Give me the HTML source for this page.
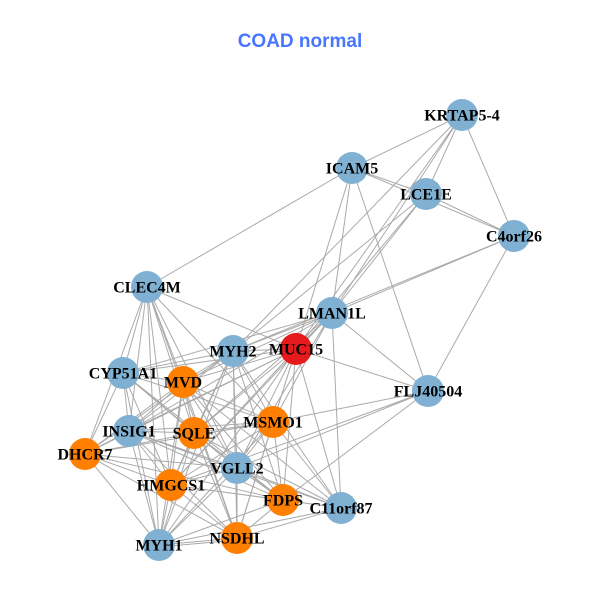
<!DOCTYPE html>
<html><head><meta charset="utf-8"><style>
html,body{margin:0;padding:0;background:#fff;}
svg{display:block;}
.e path{stroke:#aaaaaa;stroke-width:1;fill:none;}
.t text{font-family:"Liberation Serif",serif;font-weight:bold;font-size:16px;text-anchor:middle;fill:#000;}
</style></head><body>
<svg width="600" height="600" viewBox="0 0 600 600" xmlns="http://www.w3.org/2000/svg">
<rect width="600" height="600" fill="#fff"/>
<text x="300" y="47" font-family="Liberation Sans, sans-serif" font-weight="bold" font-size="19" fill="#4876FF" text-anchor="middle">COAD normal</text>
<g class="e">
<path d="M462 115L352 168M462 115L426 194M462 115L514 236M462 115L332 313M462 115L296 349M462 115L233 351"/>
<path d="M352 168L426 194L514 236M352 168L514 236M352 168L147 287M352 168L332 313M352 168L296 349M352 168L428 391"/>
<path d="M426 194L332 313M426 194L296 349M426 194L233 351M514 236L332 313M514 236L233 351M514 236L428 391"/>
<path d="M147 287L123 373M147 287L129 431M147 287L85 454M147 287L183 382M147 287L194 433M147 287L171 485M147 287L159 545M147 287L237 468M147 287L237 538M147 287L296 349M147 287L273 422"/>
<path d="M332 313L296 349M332 313L233 351M332 313L428 391M332 313L341 508M332 313L183 382M332 313L123 373M332 313L194 433M332 313L129 431M332 313L237 468M332 313L273 422M332 313L171 485"/>
<path d="M296 349L233 351M296 349L183 382M296 349L123 373M296 349L129 431M296 349L194 433M296 349L273 422M296 349L85 454M296 349L237 468M296 349L171 485M296 349L283 500M296 349L341 508M296 349L237 538M296 349L159 545M296 349L428 391"/>
<path d="M233 351L123 373M233 351L183 382M233 351L129 431M233 351L194 433M233 351L85 454M233 351L237 468M233 351L171 485M233 351L283 500M233 351L341 508M233 351L237 538M233 351L159 545M233 351L273 422"/>
<path d="M428 391L273 422M428 391L237 468M428 391L283 500M428 391L171 485"/>
<path d="M123 373L183 382M123 373L129 431M123 373L194 433M123 373L85 454M123 373L171 485M123 373L237 468M123 373L159 545M123 373L273 422M123 373L283 500"/>
<path d="M183 382L129 431M183 382L194 433M183 382L273 422M183 382L85 454M183 382L237 468M183 382L171 485M183 382L283 500M183 382L237 538M183 382L159 545M183 382L341 508"/>
<path d="M129 431L194 433M129 431L85 454M129 431L273 422M129 431L237 468M129 431L171 485M129 431L283 500M129 431L237 538M129 431L159 545M129 431L341 508"/>
<path d="M194 433L85 454M194 433L273 422M194 433L237 468M194 433L171 485M194 433L283 500M194 433L237 538M194 433L159 545M194 433L341 508"/>
<path d="M273 422L85 454M273 422L237 468M273 422L171 485M273 422L283 500M273 422L237 538M273 422L341 508M273 422L159 545"/>
<path d="M85 454L237 468M85 454L171 485M85 454L283 500M85 454L237 538M85 454L159 545"/>
<path d="M237 468L171 485M237 468L283 500M237 468L341 508M237 468L237 538M237 468L159 545"/>
<path d="M171 485L283 500M171 485L341 508M171 485L237 538M171 485L159 545"/>
<path d="M283 500L341 508M283 500L237 538M283 500L159 545M341 508L237 538M341 508L159 545M237 538L159 545M237 540L159 547"/>
</g>
<g>
<circle cx="462" cy="115" r="16" fill="#80B1D3"/>
<circle cx="352" cy="168" r="16" fill="#80B1D3"/>
<circle cx="426" cy="194" r="16" fill="#80B1D3"/>
<circle cx="514" cy="236" r="16" fill="#80B1D3"/>
<circle cx="147" cy="287" r="16" fill="#80B1D3"/>
<circle cx="332" cy="313" r="16" fill="#80B1D3"/>
<circle cx="233" cy="351" r="16" fill="#80B1D3"/>
<circle cx="296" cy="349" r="16" fill="#E41A1C"/>
<circle cx="123" cy="373" r="16" fill="#80B1D3"/>
<circle cx="183" cy="382" r="16" fill="#FF7F00"/>
<circle cx="428" cy="391" r="16" fill="#80B1D3"/>
<circle cx="129" cy="431" r="16" fill="#80B1D3"/>
<circle cx="194" cy="433" r="16" fill="#FF7F00"/>
<circle cx="273" cy="422" r="16" fill="#FF7F00"/>
<circle cx="85" cy="454" r="16" fill="#FF7F00"/>
<circle cx="237" cy="468" r="16" fill="#80B1D3"/>
<circle cx="171" cy="485" r="16" fill="#FF7F00"/>
<circle cx="283" cy="500" r="16" fill="#FF7F00"/>
<circle cx="341" cy="508" r="16" fill="#80B1D3"/>
<circle cx="237" cy="538" r="16" fill="#FF7F00"/>
<circle cx="159" cy="545" r="16" fill="#80B1D3"/>
</g>
<g class="t">
<text x="462" y="120.5">KRTAP5-4</text>
<text x="352" y="173.5">ICAM5</text>
<text x="426" y="199.5">LCE1E</text>
<text x="514" y="241.5">C4orf26</text>
<text x="147" y="292.5">CLEC4M</text>
<text x="332" y="318.5">LMAN1L</text>
<text x="233" y="356.5">MYH2</text>
<text x="296" y="354.5">MUC15</text>
<text x="123" y="378.5">CYP51A1</text>
<text x="183" y="387.5">MVD</text>
<text x="428" y="396.5">FLJ40504</text>
<text x="129" y="436.5">INSIG1</text>
<text x="194" y="438.5">SQLE</text>
<text x="273" y="427.5">MSMO1</text>
<text x="85" y="459.5">DHCR7</text>
<text x="237" y="473.5">VGLL2</text>
<text x="171" y="490.5">HMGCS1</text>
<text x="283" y="505.5">FDPS</text>
<text x="341" y="513.5">C11orf87</text>
<text x="237" y="543.5">NSDHL</text>
<text x="159" y="550.5">MYH1</text>
</g>
</svg>
</body></html>
